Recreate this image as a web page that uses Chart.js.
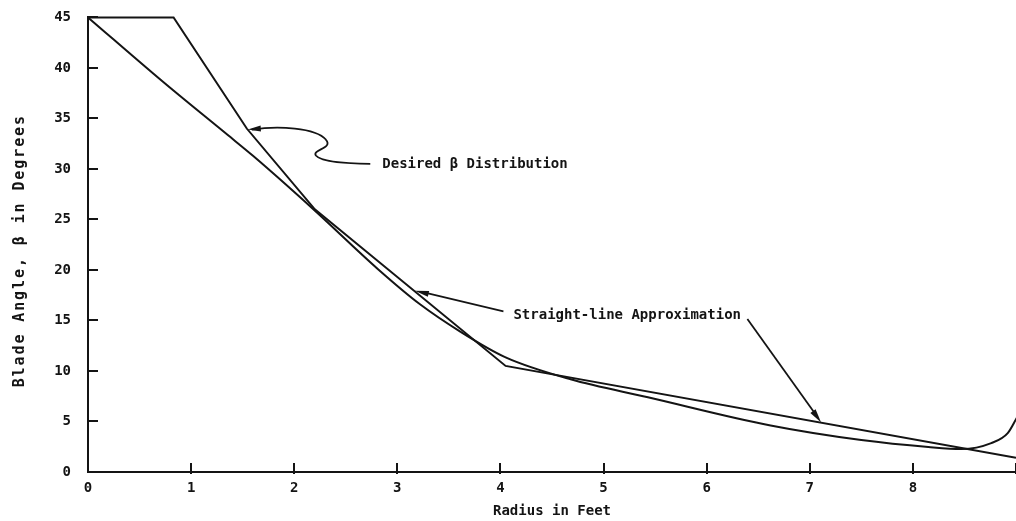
<!DOCTYPE html>
<html>
<head>
<meta charset="utf-8">
<title>Blade Angle vs Radius</title>
<script src="https://cdn.jsdelivr.net/npm/chart.js@4.4.1/dist/chart.umd.min.js"></script>
<style>
  html, body { margin: 0; padding: 0; background: #ffffff; overflow: hidden; }
  #wrap { position: relative; width: 1016px; height: 521px; }
</style>
</head>
<body>
<div id="wrap"><canvas id="chart" width="1016" height="521"></canvas></div>
<script>
// Smooth blade-angle distribution (radius in feet, angle in degrees)
const radiusSmooth = [0, 0.73, 1.35, 1.60, 2.18, 2.81, 3.22, 3.61, 4.05, 4.68, 5.43, 6.62, 7.50, 8.15, 8.47, 8.76, 8.92, 9.01];
const betaSmooth   = [45, 38.6, 33.4, 31.3, 26.06, 20.1, 16.6, 13.9, 11.35, 9.18, 7.4, 4.6, 3.16, 2.47, 2.27, 2.86, 3.85, 5.4];

// Piecewise straight-line approximation
const radiusLinear = [0, 0.83, 1.54, 2.20, 4.05, 9.0];
const betaLinear   = [45, 45, 34.0, 26.0, 10.5, 1.4];

// Axis ticks
const radiusTicks = [0, 1, 2, 3, 4, 5, 6, 7, 8, 9];
const betaTicks   = [0, 5, 10, 15, 20, 25, 30, 35, 40, 45];

// Label texts
const xTitle = 'Radius in Feet';
const yTitle = 'Blade Angle, \u03b2 in Degrees';
const noteDesired = 'Desired \u03b2 Distribution';
const noteLinear = 'Straight-line Approximation';

const INK = '#141414';
const FONT_FAMILY = '"DejaVu Sans Mono", "Liberation Mono", monospace';

const toPoints = (xs, ys) => xs.map((x, i) => ({ x: x, y: ys[i] }));

function arrowHead(ctx, tipX, tipY, fromX, fromY, len, half) {
  const a = Math.atan2(tipY - fromY, tipX - fromX);
  const bx = tipX - Math.cos(a) * len, by = tipY - Math.sin(a) * len;
  ctx.beginPath();
  ctx.moveTo(tipX, tipY);
  ctx.lineTo(bx + Math.sin(a) * half, by - Math.cos(a) * half);
  ctx.lineTo(bx - Math.sin(a) * half, by + Math.cos(a) * half);
  ctx.closePath();
  ctx.fill();
}

// Inner tick marks, annotations with leader arrows, and the vertical axis title
const figureNotes = {
  id: 'figureNotes',
  afterDraw(chart) {
    const { ctx, chartArea: area, scales: { x, y } } = chart;
    const P = (vx, vy) => [x.getPixelForValue(vx), y.getPixelForValue(vy)];
    ctx.save();
    ctx.strokeStyle = INK;
    ctx.fillStyle = INK;
    ctx.lineWidth = 2;
    ctx.lineCap = 'butt';

    // tick marks drawn on the inside of the axes
    betaTicks.forEach(v => {
      if (v === 0) return;
      const py = Math.round(y.getPixelForValue(v));
      ctx.beginPath();
      ctx.moveTo(area.left, py);
      ctx.lineTo(area.left + 10, py);
      ctx.stroke();
    });
    radiusTicks.forEach(v => {
      if (v === 0) return;
      const px = Math.round(x.getPixelForValue(v));
      ctx.beginPath();
      ctx.moveTo(px, area.bottom - 9);
      ctx.lineTo(px, area.bottom + 2);
      ctx.stroke();
    });

    // annotation texts
    ctx.font = 'bold 14px ' + FONT_FAMILY;
    ctx.textBaseline = 'middle';
    ctx.textAlign = 'left';
    const [dX, dY] = P(2.854, 30.5);
    ctx.fillText(noteDesired, dX, dY);
    const [sX, sY] = P(4.126, 15.5);
    ctx.fillText(noteLinear, sX, sY);

    // squiggly leader to the steep segment
    ctx.lineWidth = 1.8;
    const [tX, tY] = P(1.55, 33.9);
    ctx.beginPath();
    ctx.moveTo(tX + 4, tY);
    ctx.bezierCurveTo(tX + 30, tY - 4, tX + 68, tY - 2, tX + 78, tY + 10);
    ctx.bezierCurveTo(tX + 86, tY + 19, tX + 64, tY + 20, tX + 68, tY + 26);
    ctx.bezierCurveTo(tX + 74, tY + 33, tX + 100, tY + 34, dX - 12, dY);
    ctx.stroke();
    arrowHead(ctx, tX, tY, tX + 14, tY - 1, 13, 3);

    // straight leaders for the approximation label
    const [a1X, a1Y] = P(3.17, 17.95);
    ctx.beginPath();
    ctx.moveTo(sX - 10, sY - 4);
    ctx.lineTo(a1X + 10, a1Y + 2);
    ctx.stroke();
    arrowHead(ctx, a1X, a1Y, sX - 10, sY - 4, 14, 3);

    const [a2X, a2Y] = P(7.11, 4.9);
    const [b2X, b2Y] = P(6.395, 15.15);
    ctx.beginPath();
    ctx.moveTo(b2X, b2Y);
    ctx.lineTo(a2X - 4, a2Y - 6);
    ctx.stroke();
    arrowHead(ctx, a2X, a2Y, b2X, b2Y, 14, 3.2);

    // vertical axis title (spaced lettering)
    ctx.font = 'bold 15px ' + FONT_FAMILY;
    ctx.translate(20, (area.top + area.bottom) / 2 + 6);
    ctx.rotate(-Math.PI / 2);
    ctx.textAlign = 'center';
    ctx.letterSpacing = '1.9px';
    ctx.fillText(yTitle, 0, 0);
    ctx.restore();
  }
};

const tickFont = { family: FONT_FAMILY, size: 14, weight: 'bold' };

new Chart(document.getElementById('chart'), {
  type: 'scatter',
  data: {
    datasets: [
      {
        label: noteDesired,
        data: toPoints(radiusSmooth, betaSmooth),
        showLine: true,
        borderColor: INK,
        borderWidth: 2,
        pointRadius: 0,
        clip: 4,
        cubicInterpolationMode: 'monotone'
      },
      {
        label: noteLinear,
        data: toPoints(radiusLinear, betaLinear),
        showLine: true,
        borderColor: INK,
        borderWidth: 2,
        pointRadius: 0,
        clip: 4,
        tension: 0
      }
    ]
  },
  options: {
    responsive: false,
    animation: false,
    devicePixelRatio: 1,
    layout: { padding: { top: 16, right: 0, bottom: 0, left: 0 } },
    plugins: { legend: { display: false }, tooltip: { enabled: false } },
    scales: {
      x: {
        type: 'linear',
        min: 0,
        max: 9,
        afterBuildTicks: s => { s.ticks = radiusTicks.map(v => ({ value: v })); },
        afterFit: s => { s.height = 49; },
        grid: { display: false },
        border: { display: true, color: INK, width: 2 },
        ticks: {
          color: INK,
          font: tickFont,
          padding: 0,
          maxRotation: 0,
          autoSkip: false,
          callback: v => (v === 9 ? '' : String(v))
        },
        title: {
          display: true,
          text: xTitle,
          color: INK,
          font: tickFont,
          padding: { top: 0, bottom: 1 }
        }
      },
      y: {
        type: 'linear',
        min: 0,
        max: 45,
        afterBuildTicks: s => { s.ticks = betaTicks.map(v => ({ value: v })); },
        afterFit: s => { s.width = 88; },
        grid: { display: false },
        border: { display: true, color: INK, width: 2 },
        ticks: {
          color: INK,
          font: tickFont,
          padding: 9,
          autoSkip: false,
          callback: v => String(v)
        }
      }
    }
  },
  plugins: [figureNotes]
});
</script>
</body>
</html>
